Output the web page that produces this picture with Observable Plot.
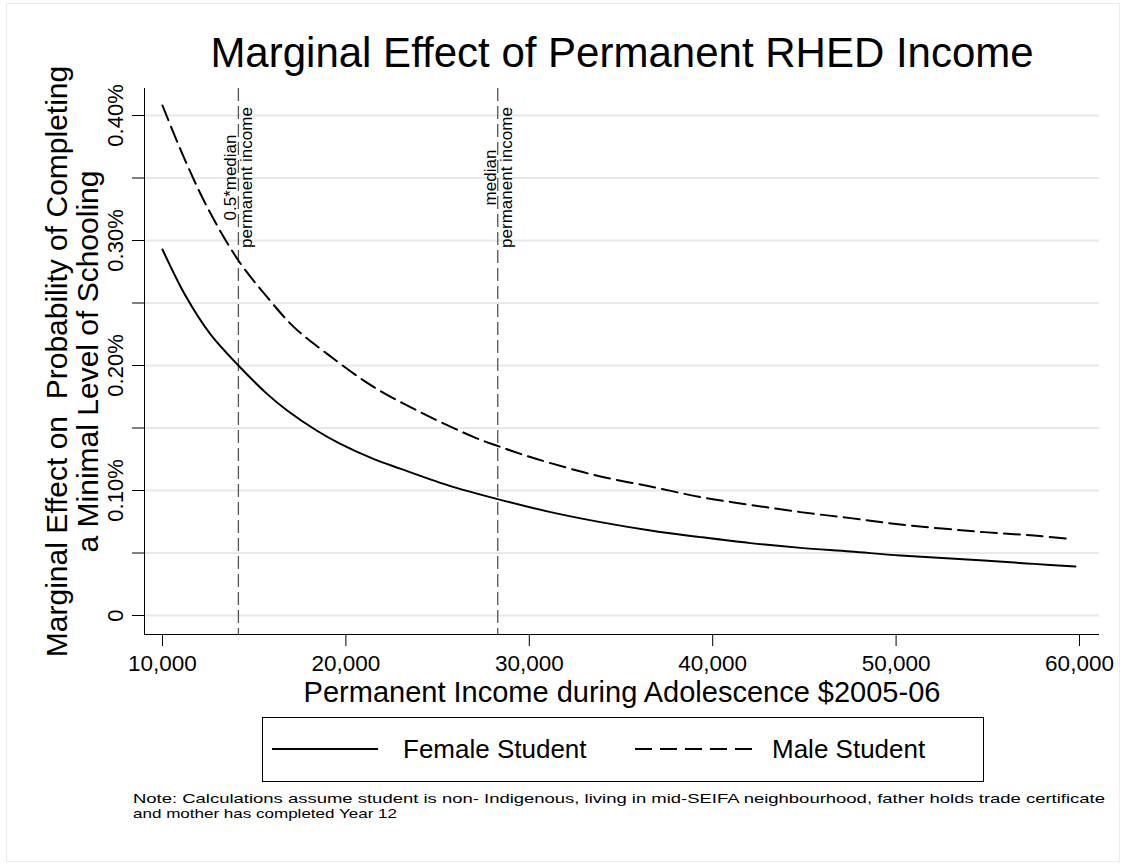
<!DOCTYPE html>
<html>
<head>
<meta charset="utf-8">
<script src="https://cdn.jsdelivr.net/npm/d3@7"></script>
<script src="https://cdn.jsdelivr.net/npm/@observablehq/plot@0.6"></script>
<style>
  html, body { margin: 0; padding: 0; background: #fff; }
  #wrap { position: relative; width: 1123px; height: 865px; overflow: hidden; font-family: "Liberation Sans", Arial, Helvetica, sans-serif; }
  #border { position: absolute; left: 6px; top: 3px; width: 1112px; height: 857px; border: 1px solid #ececec; }
  #chart { position: absolute; left: 0; top: 0; }
  #legend { position: absolute; left: 262px; top: 717px; }
  #note { position: absolute; left: 0; top: 786px; }
</style>
</head>
<body>
<div id="wrap">
  <div id="border"></div>
  <div id="chart"></div>
  <div id="legend"></div>
  <div id="note"></div>
</div>
<script>
// ---- Data (income in $, marginal effect in %) ----
const femaleIncome = [10000, 11250, 12600, 14140, 15700, 16800, 18400, 19700, 21500, 23000, 25500, 26900, 28430, 31160, 33880, 36610, 39340, 42060, 44790, 47510, 50240, 54790, 57510, 59780];
const femaleEffect = [0.2928, 0.2560, 0.2253, 0.2000, 0.1773, 0.1640, 0.1480, 0.1373, 0.1253, 0.1173, 0.1045, 0.0985, 0.0925, 0.0827, 0.0747, 0.0680, 0.0627, 0.0579, 0.0541, 0.0512, 0.0480, 0.0440, 0.0413, 0.0392];

const maleIncome = [10000, 11160, 12440, 14140, 15710, 17170, 18980, 21530, 24250, 26980, 28300, 29520, 31160, 33880, 36610, 39340, 42060, 44790, 47510, 50240, 54790, 57510, 59420];
const maleEffect = [0.4080, 0.3667, 0.3267, 0.2840, 0.2547, 0.2307, 0.2093, 0.1827, 0.1613, 0.1427, 0.1355, 0.1293, 0.1219, 0.1112, 0.1032, 0.0947, 0.0885, 0.0827, 0.0779, 0.0728, 0.0667, 0.0640, 0.0613];

const refIncome = [14140, 28280];
const refLine1 = ["0.5*median", "median"];
const refLine2 = ["permanent income", "permanent income"];

const xTicks = [10000, 20000, 30000, 40000, 50000, 60000];
const yTicks = [0, 0.05, 0.10, 0.15, 0.20, 0.25, 0.30, 0.35, 0.40];
const yLabelTicks = [0, 0.10, 0.20, 0.30, 0.40];

const seriesNames = ["Female Student", "Male Student"];
const titleText = "Marginal Effect of Permanent RHED Income";
const xTitle = "Permanent Income during Adolescence $2005-06";
const yTitle1 = "Marginal Effect on  Probability of Completing";
const yTitle2 = "a Minimal Level of Schooling";
const noteLines = [
  "Note: Calculations assume student is non- Indigenous, living in mid-SEIFA neighbourhood, father holds trade certificate",
  "and mother has completed Year 12"
];

// ---- Build tables ----
const female = femaleIncome.map((x, i) => ({x, y: femaleEffect[i]}));
const male = maleIncome.map((x, i) => ({x, y: maleEffect[i]}));
const refs = refIncome.map((x, i) => ({x, l1: refLine1[i], l2: refLine2[i]}));

const xDomain = [9020, 61090];
const yDomain = [-0.0152, 0.4216];
const fmtY = d => d === 0 ? "0" : d.toFixed(2) + "%";

const font = "'Liberation Sans', Arial, Helvetica, sans-serif";

const plot = Plot.plot({
  width: 1123,
  height: 710,
  marginLeft: 144,
  marginRight: 24,
  marginTop: 88,
  marginBottom: 76,
  style: {fontFamily: font, background: "transparent", color: "#000", overflow: "visible"},
  x: {domain: xDomain, axis: null},
  y: {domain: yDomain, axis: null},
  marks: [
    Plot.gridY(yTicks, {stroke: "#e8e8e8", strokeOpacity: 1, strokeWidth: 2}),
    Plot.ruleY([yDomain[0]], {stroke: "#000", strokeWidth: 1}),
    Plot.ruleX([xDomain[0]], {stroke: "#000", strokeWidth: 1}),
    Plot.axisX({ticks: xTicks, tickSize: 12, tickPadding: 9, fontSize: 22.5, tickFormat: d3.format(","), label: null, stroke: "#000"}),
    Plot.axisY({ticks: yTicks, tickSize: 12, tickFormat: () => "", label: null, stroke: "#000"}),
    Plot.text(yLabelTicks, {y: d => d, text: fmtY, frameAnchor: "left", dx: -22, rotate: -90, textAnchor: "middle", lineAnchor: "bottom", fontSize: 22, fill: "#000"}),
    Plot.ruleX(refs, {x: "x", stroke: "#555", strokeWidth: 1.3, strokeDasharray: "13,5"}),
    Plot.text(refs, {x: "x", text: "l1", frameAnchor: "top", dy: 89, dx: -2, rotate: -90, textAnchor: "middle", lineAnchor: "bottom", fontSize: 17, fill: "#000"}),
    Plot.text(refs, {x: "x", text: "l2", frameAnchor: "top", dy: 89, dx: 2, rotate: -90, textAnchor: "middle", lineAnchor: "top", fontSize: 17, fill: "#000"}),
    Plot.line(female, {x: "x", y: "y", stroke: "#000", strokeWidth: 2, curve: "catmull-rom"}),
    Plot.line(male, {x: "x", y: "y", stroke: "#000", strokeWidth: 2, strokeDasharray: "16,7", curve: "catmull-rom"}),
    Plot.text([titleText], {text: d => d, frameAnchor: "top", dy: -22, lineAnchor: "bottom", fontSize: 42, fill: "#000"}),
    Plot.text([xTitle], {text: d => d, frameAnchor: "bottom", dy: 67, lineAnchor: "bottom", fontSize: 29, fill: "#000"}),
    Plot.text([yTitle1], {text: d => d, frameAnchor: "left", dx: -78, rotate: -90, textAnchor: "middle", lineAnchor: "bottom", fontSize: 30, fill: "#000"}),
    Plot.text([yTitle2], {text: d => d, frameAnchor: "left", dx: -47, rotate: -90, textAnchor: "middle", lineAnchor: "bottom", fontSize: 30, fill: "#000"})
  ]
});
document.getElementById("chart").appendChild(plot);

// ---- Legend ----
const ns = "http://www.w3.org/2000/svg";
const lg = document.createElementNS(ns, "svg");
lg.setAttribute("width", 722);
lg.setAttribute("height", 65);
const rect = document.createElementNS(ns, "rect");
rect.setAttribute("x", 0.5); rect.setAttribute("y", 0.5);
rect.setAttribute("width", 721); rect.setAttribute("height", 64);
rect.setAttribute("fill", "#fff"); rect.setAttribute("stroke", "#000"); rect.setAttribute("stroke-width", 1);
lg.appendChild(rect);
const items = [
  {name: seriesNames[0], x1: 10, x2: 116, tx: 141, dash: null},
  {name: seriesNames[1], x1: 373, x2: 490, tx: 510, dash: "17,8"}
];
for (const it of items) {
  const ln = document.createElementNS(ns, "line");
  ln.setAttribute("x1", it.x1); ln.setAttribute("x2", it.x2);
  ln.setAttribute("y1", 32); ln.setAttribute("y2", 32);
  ln.setAttribute("stroke", "#000"); ln.setAttribute("stroke-width", 2);
  if (it.dash) ln.setAttribute("stroke-dasharray", it.dash);
  lg.appendChild(ln);
  const t = document.createElementNS(ns, "text");
  t.setAttribute("x", it.tx); t.setAttribute("y", 41);
  t.setAttribute("font-size", 26); t.setAttribute("font-family", font);
  t.setAttribute("fill", "#000");
  t.textContent = it.name;
  lg.appendChild(t);
}
document.getElementById("legend").appendChild(lg);

// ---- Note ----
const nt = document.createElementNS(ns, "svg");
nt.setAttribute("width", 1123);
nt.setAttribute("height", 40);
const noteLengths = [972, 264];
noteLines.forEach((line, i) => {
  const t = document.createElementNS(ns, "text");
  t.setAttribute("x", 133); t.setAttribute("y", 17 + i * 14.5);
  t.setAttribute("font-size", 13); t.setAttribute("font-family", font);
  t.setAttribute("fill", "#000");
  t.setAttribute("textLength", noteLengths[i]);
  t.setAttribute("lengthAdjust", "spacingAndGlyphs");
  t.textContent = line;
  nt.appendChild(t);
});
document.getElementById("note").appendChild(nt);
</script>
</body>
</html>
